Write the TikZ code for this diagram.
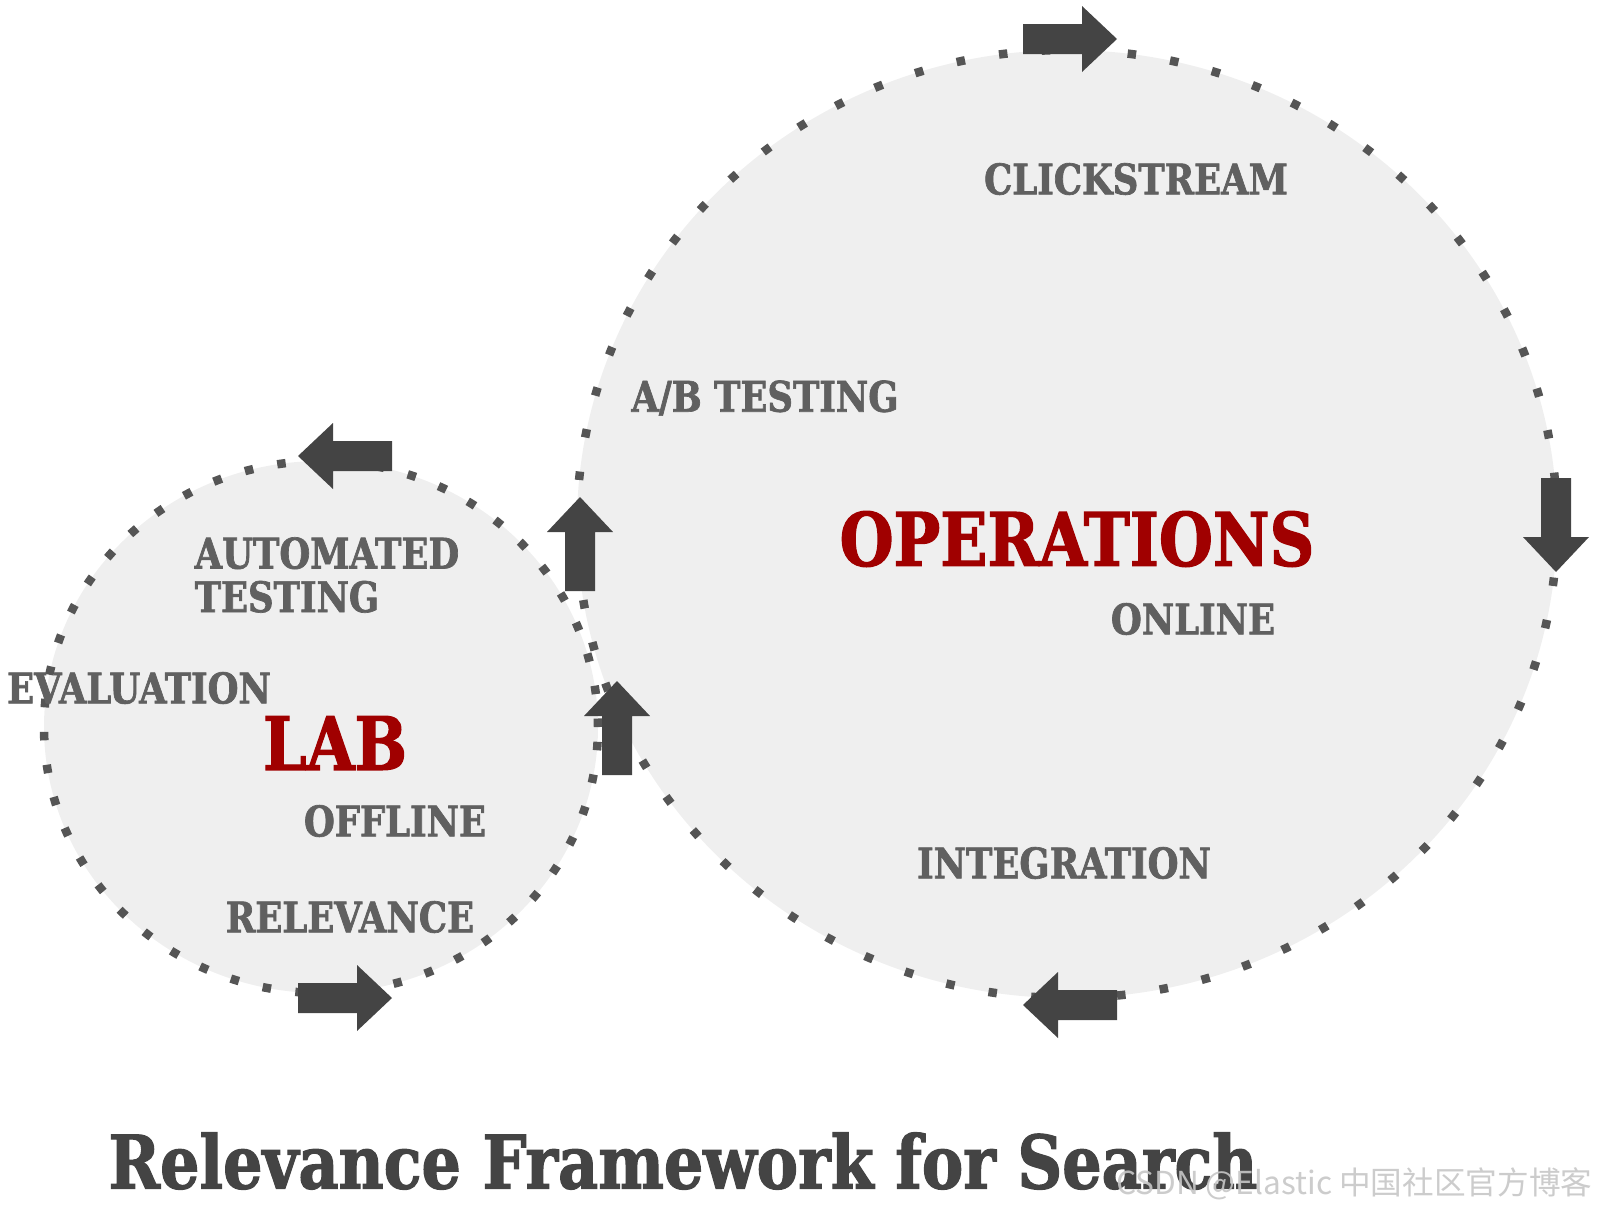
\documentclass[tikz,border=0pt]{standalone}
\usepackage{fontspec}
\usepackage{xcolor}
\usepackage{tikz}
\usetikzlibrary{positioning,shapes.geometric}
\setmainfont{DejaVu Serif}
\newfontfamily\slabfont[FakeStretch=0.84,BoldFeatures={FakeBold=1.6}]{DejaVu Serif}
\newfontfamily\cjkfont{Noto Sans CJK SC}
\definecolor{ringfill}{HTML}{EFEFEF}
\definecolor{ringdot}{HTML}{555555}
\definecolor{arrowgray}{HTML}{444444}
\definecolor{wordgray}{HTML}{606060}
\definecolor{opsred}{HTML}{A00000}
\definecolor{titlegray}{HTML}{444444}

\tikzset{
  ring/.style={ellipse,fill=ringfill,draw=ringdot,line width=0.85mm},
  word/.style={inner sep=0pt,text=wordgray,font=\slabfont\bfseries\fontsize{12}{12.4}\selectfont},
  bigword/.style={inner sep=0pt,text=opsred,font=\slabfont\bfseries\fontsize{21}{24}\selectfont},
  blockarrow/.pic={
    \fill[arrowgray] (-47,-15) -- (12,-15) -- (12,-33) -- (47,0)
      -- (12,33) -- (12,15) -- (-47,15) -- cycle;
  }
}

\begin{document}
\begin{tikzpicture}[x=0.1mm,y=-0.1mm]
  \useasboundingbox (0,0) rectangle (1600,1211);
  % the two cycles
  \node[ring,minimum width=98mm,minimum height=94.8mm,dash pattern=on 0.85mm off 3.45mm] (ops) at (1067,524) {};
  \node[ring,minimum width=55.4mm,minimum height=53.2mm,dash pattern=on 0.85mm off 2.45mm] (lab) at (321,727) {};

  % arrows round the operations cycle
  \pic at (1070,39) {blockarrow};
  \pic[rotate=-90] at (1556,525) {blockarrow};
  \pic[rotate=180] at (1070,1005) {blockarrow};
  \pic[rotate=90] at (580,544) {blockarrow};
  % arrows round the lab cycle
  \pic[rotate=180] at (345,456) {blockarrow};
  \pic[rotate=90] at (617,728) {blockarrow};
  \pic at (345,998) {blockarrow};

  % operations side
  \node[word] (click) at (1136,179) {CLICKSTREAM};
  \node[word] (abtest) at (765,398) {A/B TESTING};
  \node[bigword] (opsname) at (1077,539) {OPERATIONS};
  \node[word] (online) at (1193,619) {ONLINE};
  \node[word] (integ) at (1064,863) {INTEGRATION};

  % lab side
  \node[word,align=left,anchor=west] (autotest) at (194,575) {AUTOMATED\\TESTING};
  \node[word] (evalu) at (139,688) {EVALUATION};
  \node[bigword] (labname) at (335,743) {LAB};
  \node[word] (offline) at (395,821) {OFFLINE};
  \node[word] (relev) at (350,917) {RELEVANCE};

  \node[inner sep=0pt,text=titlegray,font=\slabfont\bfseries\fontsize{21}{24}\selectfont] (title) at (683,1161) {Relevance Framework for Search};
  \node[inner sep=0pt,anchor=east,text=gray!45,opacity=0.9,font=\cjkfont\fontsize{9}{11}\selectfont] (mark) at (1593,1184) {CSDN @Elastic 中国社区官方博客};
\end{tikzpicture}
\end{document}
